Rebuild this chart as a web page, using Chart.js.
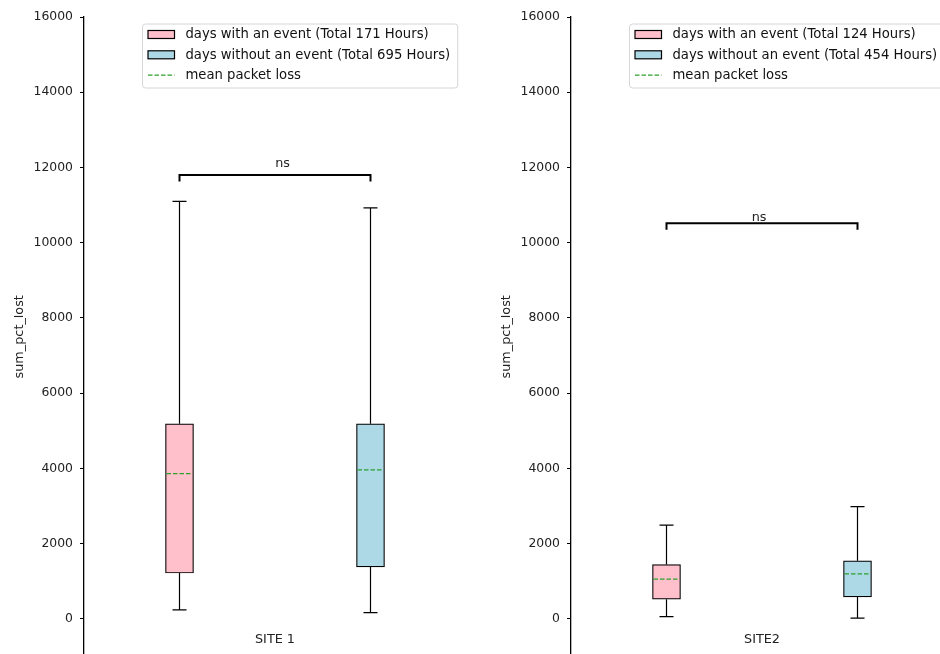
<!DOCTYPE html>
<html>
<head>
<meta charset="utf-8">
<script src="https://cdn.jsdelivr.net/npm/chart.js@4.4.1/dist/chart.umd.min.js"></script>
<style>
html, body { margin: 0; padding: 0; background: #fff; overflow: hidden; }
#wrap { position: relative; width: 940px; height: 654px; overflow: hidden; }
.panel { position: absolute; top: 0; width: 466px; height: 671px; }
</style>
</head>
<body>
<div id="wrap">
  <div class="panel" style="left:0"><canvas id="c1" width="466" height="671"></canvas></div>
  <div class="panel" style="left:487px"><canvas id="c2" width="466" height="671"></canvas></div>
</div>
<script>
// values (boxplot stats per group)
const groups = ["days with an event", "days without an event"];
const groupColors = ["pink", "lightblue"];

const site1Min  = [240, 170];
const site1Q1   = [1220, 1385];
const site1Q3   = [5185, 5185];
const site1Max  = [11100, 10925];
const site1Mean = [3860, 3960];
const site1Hours = [171, 695];

const site2Min  = [60, 20];
const site2Q1   = [525, 585];
const site2Q3   = [1445, 1545];
const site2Max  = [2495, 2985];
const site2Mean = [1057, 1198];
const site2Hours = [124, 454];

const siteNames = ["SITE 1", "SITE2"];
const sigText = "ns";
const bracketVal = [11800, 10520];
const nsVal = [12100, 10670];
const yTicks = [0, 2000, 4000, 6000, 8000, 10000, 12000, 14000, 16000];

const FONT = "'DejaVu Sans', sans-serif";

// whiskers, caps, mean lines, bracket, site label, legend
const boxExtras = {
  id: 'boxExtras',
  afterDatasetsDraw(chart) {
    const o = chart.options.plugins.boxExtras;
    const ctx = chart.ctx, xs = chart.scales.x, ys = chart.scales.y;
    const bars = chart.getDatasetMeta(0).data;
    ctx.save();
    o.min.forEach((_, i) => {
      const x = xs.getPixelForValue(i);
      const half = bars[i].width / 2;
      ctx.strokeStyle = '#000';
      ctx.lineWidth = 1.2;
      ctx.setLineDash([]);
      ctx.beginPath();
      ctx.moveTo(x, ys.getPixelForValue(o.q3[i]));
      ctx.lineTo(x, ys.getPixelForValue(o.max[i]));
      ctx.moveTo(x, ys.getPixelForValue(o.q1[i]));
      ctx.lineTo(x, ys.getPixelForValue(o.min[i]));
      ctx.moveTo(x - half / 2, ys.getPixelForValue(o.max[i]));
      ctx.lineTo(x + half / 2, ys.getPixelForValue(o.max[i]));
      ctx.moveTo(x - half / 2, ys.getPixelForValue(o.min[i]));
      ctx.lineTo(x + half / 2, ys.getPixelForValue(o.min[i]));
      ctx.stroke();
      // mean line
      ctx.strokeStyle = '#2ca02c';
      ctx.lineWidth = 1.2;
      ctx.setLineDash([4.5, 2]);
      ctx.beginPath();
      const ym = ys.getPixelForValue(o.mean[i]);
      ctx.moveTo(x - half + 1, ym);
      ctx.lineTo(x + half - 1, ym);
      ctx.stroke();
    });
    ctx.setLineDash([]);

    // significance bracket
    const xa = xs.getPixelForValue(0), xb = xs.getPixelForValue(1);
    const yb = ys.getPixelForValue(o.bracket);
    const yd = ys.getPixelForValue(o.bracket - 175);
    ctx.strokeStyle = '#000';
    ctx.lineWidth = 2;
    ctx.beginPath();
    ctx.moveTo(xa, yd); ctx.lineTo(xa, yb); ctx.lineTo(xb, yb); ctx.lineTo(xb, yd);
    ctx.stroke();
    ctx.fillStyle = '#222';
    ctx.font = '12.8px ' + FONT;
    ctx.textAlign = 'center';
    ctx.textBaseline = 'middle';
    ctx.fillText(sigText, xa + (xb - xa) * o.nsPos, ys.getPixelForValue(o.ns));

    // site label
    ctx.fillText(o.site, (xa + xb) / 2, ys.getPixelForValue(-560));

    // legend
    ctx.font = '13.2px ' + FONT;
    const labels = [
      `${groups[0]} (Total ${o.hours[0]} Hours)`,
      `${groups[1]} (Total ${o.hours[1]} Hours)`,
      'mean packet loss'
    ];
    const tw = Math.max(...labels.map(l => ctx.measureText(l).width));
    const lx = chart.chartArea.left + 58, ly = 23.5;
    const lw = 43.5 + tw + 7, lh = 64;
    ctx.fillStyle = 'rgba(255,255,255,0.8)';
    ctx.strokeStyle = '#d6d6d6';
    ctx.lineWidth = 1;
    ctx.beginPath();
    ctx.roundRect(lx + 0.5, ly + 0.5, lw, lh, 3);
    ctx.fill();
    ctx.stroke();
    ctx.textAlign = 'left';
    labels.forEach((l, i) => {
      const cy = ly + 11 + i * 20.3;
      if (i < 2) {
        ctx.fillStyle = groupColors[i];
        ctx.fillRect(lx + 6, cy - 4, 26.5, 8);
        ctx.strokeStyle = '#000';
        ctx.lineWidth = 1.2;
        ctx.strokeRect(lx + 6, cy - 4, 26.5, 8);
      } else {
        ctx.strokeStyle = '#2ca02c';
        ctx.lineWidth = 1.2;
        ctx.setLineDash([4.5, 2]);
        ctx.beginPath();
        ctx.moveTo(lx + 6, cy); ctx.lineTo(lx + 32.5, cy);
        ctx.stroke();
        ctx.setLineDash([]);
      }
      ctx.fillStyle = '#111';
      ctx.fillText(l, lx + 43.5, cy + 0.5);
    });
    ctx.restore();
  }
};

function makePanel(id, q1, q3, mn, mx, mean, hours, site, bracket, ns, nsPos) {
  return new Chart(document.getElementById(id), {
    type: 'bar',
    data: {
      labels: groups,
      datasets: [{
        data: q1.map((v, i) => [v, q3[i]]),
        backgroundColor: groupColors,
        borderColor: '#000',
        borderWidth: 1.2,
        borderSkipped: false,
        barThickness: 28
      }]
    },
    options: {
      responsive: false,
      animation: false,
      devicePixelRatio: 1,
      layout: { padding: { top: 17, right: 0, bottom: 0, left: 0 } },
      plugins: {
        legend: { display: false },
        tooltip: { enabled: false },
        boxExtras: { q1, q3, min: mn, max: mx, mean, hours, site, bracket, ns, nsPos }
      },
      scales: {
        x: { display: false, offset: true },
        y: {
          min: -1000,
          max: 16000,
          afterBuildTicks: ax => { ax.ticks = yTicks.map(v => ({ value: v })); },
          afterFit: ax => { ax.width = 84; },
          grid: { drawOnChartArea: false, drawTicks: true, tickLength: 4, tickColor: '#000', tickWidth: 1 },
          border: { display: true, color: '#000', width: 1.3 },
          ticks: {
            color: '#222', padding: 7, font: { family: FONT, size: 12.4 },
            callback: v => String(v)
          },
          title: {
            display: true, text: 'sum_pct_lost', color: '#222',
            font: { family: FONT, size: 12.8 }, padding: { top: 12, bottom: 0 }
          }
        }
      }
    },
    plugins: [boxExtras]
  });
}

makePanel('c1', site1Q1, site1Q3, site1Min, site1Max, site1Mean, site1Hours, siteNames[0], bracketVal[0], nsVal[0], 0.54);
makePanel('c2', site2Q1, site2Q3, site2Min, site2Max, site2Mean, site2Hours, siteNames[1], bracketVal[1], nsVal[1], 0.485);
</script>
</body>
</html>
